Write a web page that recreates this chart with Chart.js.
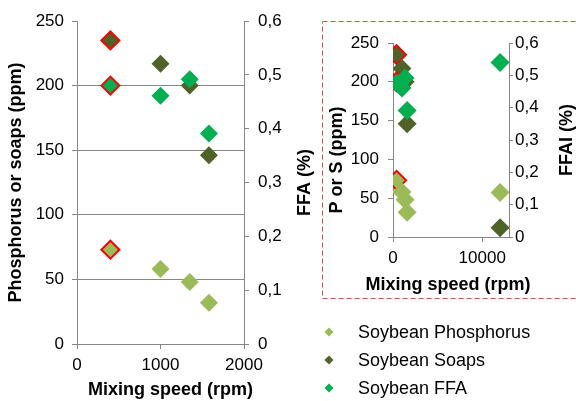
<!DOCTYPE html>
<html><head><meta charset="utf-8">
<script src="https://cdn.jsdelivr.net/npm/chart.js@4.4.1/dist/chart.umd.min.js"></script>
<style>
html,body{margin:0;padding:0;background:#fff;width:576px;height:401px;overflow:hidden}
#main{position:absolute;left:0;top:0}
#inset{position:absolute;left:322px;top:0}
</style></head><body>
<canvas id="main" width="322" height="401"></canvas>
<canvas id="inset" width="254" height="401"></canvas>
<script>
// ---- data ----
const speeds = [400, 1000, 1350, 1580, 12000];
const phosphorus = [73, 58, 48, 32, 57.5];
const soaps = [235, 217, 200, 146, 12];
const ffa = [0.48, 0.461, 0.492, 0.391, 0.54];
const highlighted = [true, false, false, false, false];
const seriesLabels = ['Soybean Phosphorus', 'Soybean Soaps', 'Soybean FFA'];
const mainXTicks = [0, 1000, 2000];
const insetXTicks = [0, 10000];
const ppmTicks = [0, 50, 100, 150, 200, 250];
const pctTicks = [0, 0.1, 0.2, 0.3, 0.4, 0.5, 0.6];

const FONT = '"Liberation Sans", Arial, sans-serif';
Chart.defaults.font.family = FONT;
Chart.defaults.color = '#000';
const GRAY = '#868686';
const RED = '#FF0000';
const colors = ['#9BBB59', '#4F6228', '#00B050'];

const comma = v => String(Number(v.toFixed(1))).replace('.', ',');
const plain = v => String(v);

function points(ys) { return speeds.map((x, i) => ({x: x, y: ys[i]})); }

function makeDatasets(radius) {
  const series = [phosphorus, soaps, ffa];
  const axes = ['y', 'y', 'y1'];
  const order = [2, 1, 0];
  return series.map((s, k) => ({
    label: seriesLabels[k],
    data: points(s),
    yAxisID: axes[k],
    order: order[k],
    backgroundColor: colors[k],
    pointStyle: 'rectRot',
    pointRadius: radius,
    pointHoverRadius: radius,
    pointBorderColor: c => highlighted[c.dataIndex] ? RED : colors[k],
    pointBorderWidth: c => highlighted[c.dataIndex] ? 2 : 0,
    showLine: false
  }));
}

function titlePlugin(items) {
  return {
    id: 'axisTitles',
    afterDraw(chart) {
      const ctx = chart.ctx;
      items.forEach(it => {
        const s = chart.scales[it.scale];
        const shift = it.shift || 0;
        ctx.save();
        ctx.font = 'bold 18px ' + FONT;
        ctx.fillStyle = '#000';
        ctx.textAlign = 'center';
        ctx.textBaseline = 'middle';
        if (it.side === 'bottom') {
          ctx.fillText(it.text, (s.left + s.right) / 2 + shift, s.bottom - it.gap);
        } else {
          const x = it.side === 'left' ? s.left + it.gap : s.right - it.gap;
          ctx.translate(x, (chart.chartArea.top + chart.chartArea.bottom) / 2 + shift);
          ctx.rotate(-Math.PI / 2);
          ctx.fillText(it.text, 0, 0);
        }
        ctx.restore();
      });
    }
  };
}

function boxPlugin(box) {
  return {
    id: 'dashBox',
    beforeDraw(chart) {
      const ctx = chart.ctx;
      ctx.save();
      ctx.strokeStyle = box.color;
      ctx.lineWidth = 1;
      ctx.setLineDash([5, 3]);
      ctx.strokeRect(box.left, box.top, box.width, box.height);
      ctx.restore();
    }
  };
}

function legendPlugin(lg) {
  return {
    id: 'sideLegend',
    afterDraw(chart) {
      const ctx = chart.ctx;
      chart.data.datasets.forEach((ds, i) => {
        const y = lg.y + i * lg.rowGap;
        const r = lg.radius;
        ctx.save();
        ctx.fillStyle = ds.backgroundColor;
        ctx.beginPath();
        ctx.moveTo(lg.markerX - r, y);
        ctx.lineTo(lg.markerX, y - r);
        ctx.lineTo(lg.markerX + r, y);
        ctx.lineTo(lg.markerX, y + r);
        ctx.closePath();
        ctx.fill();
        ctx.font = '18px ' + FONT;
        ctx.fillStyle = '#000';
        ctx.textBaseline = 'middle';
        ctx.textAlign = 'left';
        ctx.fillText(ds.label, lg.textX, y + 1);
        ctx.restore();
      });
    }
  };
}

function setTicks(list) { return s => { s.ticks = list.map(v => ({value: v})); }; }
function fixW(w) { return s => { s.width = w; }; }
function fixH(h) { return s => { s.height = h; }; }

// ---- main chart ----
new Chart(document.getElementById('main'), {
  type: 'scatter',
  data: {datasets: makeDatasets(9)},
  plugins: [titlePlugin([
    {scale: 'y', side: 'left', gap: 16, shift: 0, text: 'Phosphorus or soaps (ppm)'},
    {scale: 'y1', side: 'right', gap: 17, shift: 0, text: 'FFA (%)'},
    {scale: 'x', side: 'bottom', gap: 11, shift: 10, text: 'Mixing speed (rpm)'}
  ])],
  options: {
    responsive: false, animation: false, events: [],
    layout: {padding: {top: 21, left: 0, right: 0, bottom: 0}},
    plugins: {legend: {display: false}, tooltip: {enabled: false}},
    scales: {
      x: {
        type: 'linear', min: 0, max: 2000,
        afterBuildTicks: setTicks(mainXTicks), afterFit: fixH(57),
        grid: {drawOnChartArea: false, tickLength: 5, color: GRAY},
        border: {color: GRAY},
        ticks: {font: {size: 17}, padding: 6, maxRotation: 0, callback: plain}
      },
      y: {
        position: 'left', min: 0, max: 250,
        afterBuildTicks: setTicks(ppmTicks), afterFit: fixW(77),
        grid: {color: c => (c.tick && c.tick.value === 250) ? 'rgba(0,0,0,0)' : GRAY, tickColor: GRAY, tickLength: 5},
        border: {color: GRAY},
        ticks: {font: {size: 17}, padding: 8, callback: plain}
      },
      y1: {
        position: 'right', min: 0, max: 0.6,
        afterBuildTicks: setTicks(pctTicks), afterFit: fixW(78),
        grid: {drawOnChartArea: false, color: GRAY, tickLength: 5},
        border: {color: GRAY},
        ticks: {font: {size: 17}, padding: 9, callback: comma}
      }
    }
  }
});

// ---- inset chart ----
new Chart(document.getElementById('inset'), {
  type: 'scatter',
  data: {datasets: makeDatasets(9.5)},
  plugins: [
    boxPlugin({color: '#D0504D', left: 0.5, top: 21.5, width: 300, height: 277}),
    titlePlugin([
      {scale: 'y', side: 'left', gap: 15, shift: 20, text: 'P or S (ppm)'},
      {scale: 'y1', side: 'right', gap: 9, shift: 0, text: 'FFAI (%)'},
      {scale: 'x', side: 'bottom', gap: 14, shift: -3, text: 'Mixing speed (rpm)'}
    ]),
    legendPlugin({markerX: 7, textX: 36, y: 332, rowGap: 28, radius: 4.5})
  ],
  options: {
    responsive: false, animation: false, events: [],
    layout: {padding: {top: 43, left: 0, right: 0, bottom: 102}},
    plugins: {legend: {display: false}, tooltip: {enabled: false}},
    scales: {
      x: {
        type: 'linear', min: 0, max: 13000,
        afterBuildTicks: setTicks(insetXTicks), afterFit: fixH(62),
        grid: {display: true, drawOnChartArea: false, tickLength: 5, color: GRAY},
        border: {color: GRAY},
        ticks: {font: {size: 17}, padding: 6, maxRotation: 0, callback: plain}
      },
      y: {
        position: 'left', min: 0, max: 250,
        afterBuildTicks: setTicks(ppmTicks), afterFit: fixW(71),
        grid: {drawOnChartArea: false, color: GRAY, tickLength: 5},
        border: {color: GRAY},
        ticks: {font: {size: 17}, padding: 9, callback: plain}
      },
      y1: {
        position: 'right', min: 0, max: 0.6,
        afterBuildTicks: setTicks(pctTicks), afterFit: fixW(67),
        grid: {drawOnChartArea: false, color: GRAY, tickLength: 4},
        border: {color: GRAY},
        ticks: {font: {size: 17}, padding: 2, callback: comma}
      }
    }
  }
});
</script>
</body></html>
